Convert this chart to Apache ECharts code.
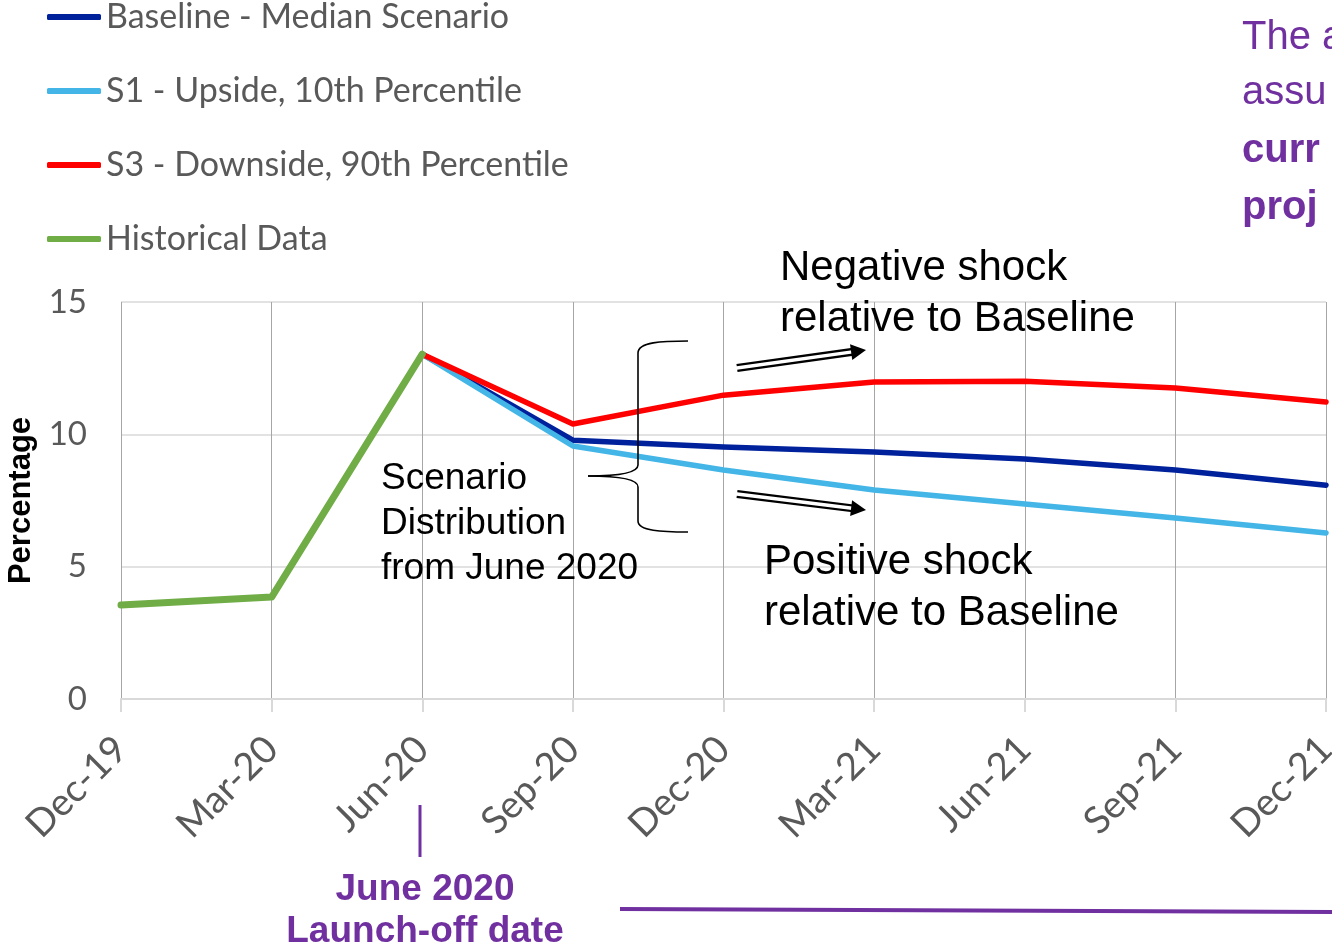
<!DOCTYPE html>
<html>
<head>
<meta charset="utf-8">
<script src="https://cdn.jsdelivr.net/npm/echarts@6/dist/echarts.min.js"></script>
<style>
  html, body { margin: 0; padding: 0; background: #fff; }
  #chart { width: 1332px; height: 946px; }
</style>
</head>
<body>
<div id="chart"></div>
<script>
// ---- data ----
const categories = ['Dec-19', 'Mar-20', 'Jun-20', 'Sep-20', 'Dec-20', 'Mar-21', 'Jun-21', 'Sep-21', 'Dec-21'];
const baseline   = [null, null, 13.03, 9.78, 9.52, 9.33, 9.07, 8.65, 8.08];
const upsideS1   = [null, null, 13.03, 9.56, 8.65, 7.90, 7.37, 6.84, 6.27];
const downsideS3 = [null, null, 13.03, 10.39, 11.48, 11.98, 12.01, 11.75, 11.22];
const historical = [3.55, 3.85, 13.03, null, null, null, null, null, null];
const yTicks = { min: 0, max: 15, interval: 5 };

const seriesNames = ['Baseline - Median Scenario', 'S1 - Upside, 10th Percentile', 'S3 - Downside, 90th Percentile', 'Historical Data'];
const seriesColors = ['#00219C', '#43B5E6', '#FF0000', '#70AD47'];

const PURPLE = '#7030A0';
const AX = 'Lato, "Open Sans", sans-serif';
const AR = '"Liberation Sans", Arial, sans-serif';

function lineSeries(i, data, width) {
  return {
    name: seriesNames[i], type: 'line', data: data,
    showSymbol: false, symbol: 'none', connectNulls: false,
    lineStyle: { color: seriesColors[i], width: width, cap: 'round', join: 'round' },
    itemStyle: { color: seriesColors[i] },
    emphasis: { disabled: true }, animation: false
  };
}

// double-line arrow helper (annotation graphic)
function arrow(x1, y1, x2, y2) {
  const dx = x2 - x1, dy = y2 - y1, L = Math.hypot(dx, dy);
  const ux = dx / L, uy = dy / L, nx = -uy, ny = ux;
  const hl = 15, hw = 8;
  const bx = x2 - ux * hl, by = y2 - uy * hl;
  return [
    { type: 'line', shape: { x1: x1, y1: y1, x2: bx + ux * 2, y2: by + uy * 2 }, style: { stroke: '#000', lineWidth: 8 }, z: 100 },
    { type: 'line', shape: { x1: x1 - ux * 2, y1: y1 - uy * 2, x2: bx + ux * 3, y2: by + uy * 3 }, style: { stroke: '#fff', lineWidth: 3.4 }, z: 101 },
    { type: 'polygon', shape: { points: [[x2, y2], [bx + nx * hw, by + ny * hw], [bx - nx * hw, by - ny * hw]] }, style: { fill: '#000' }, z: 102 }
  ];
}

const braceStyle = { stroke: '#000', lineWidth: 1.6, fill: null };
function bez(x1, y1, cpx1, cpy1, cpx2, cpy2, x2, y2) {
  return { type: 'bezierCurve', z: 100, shape: { x1, y1, cpx1, cpy1, cpx2, cpy2, x2, y2 }, style: braceStyle };
}
function seg(x1, y1, x2, y2) {
  return { type: 'line', z: 100, shape: { x1, y1, x2, y2 }, style: braceStyle };
}

const chart = echarts.init(document.getElementById('chart'), null, { renderer: 'canvas' });

const option = {
  backgroundColor: '#ffffff',
  animation: false,
  grid: { left: 121, right: 6, top: 302, bottom: 247, containLabel: false, outerBoundsMode: 'none' },
  legend: {
    orient: 'vertical', left: 47, top: 0, padding: 0, itemGap: 40,
    itemWidth: 54, itemHeight: 6, icon: 'roundRect',
    data: seriesNames,
    textStyle: { fontFamily: AX, fontSize: 34, color: '#595959', lineHeight: 30, padding: [0, 0, 0, 0] },
    selectedMode: false
  },
  xAxis: {
    type: 'category', data: categories, boundaryGap: false,
    axisLine: { show: true, lineStyle: { color: '#d9d9d9', width: 2 } },
    axisTick: { show: true, length: 13, lineStyle: { color: '#d9d9d9', width: 2 } },
    splitLine: { show: true, lineStyle: { color: '#a6a6a6', width: 1 } },
    axisLabel: { interval: 0, rotate: 45, margin: 44, fontFamily: AX, fontSize: 38, color: '#595959', hideOverlap: false }
  },
  yAxis: {
    type: 'value', min: yTicks.min, max: yTicks.max, interval: yTicks.interval,
    name: 'Percentage', nameLocation: 'middle', nameGap: 84,
    nameTextStyle: { fontFamily: AR, fontWeight: 'bold', fontSize: 31, color: '#000' },
    axisLine: { show: false }, axisTick: { show: false },
    splitLine: { show: true, lineStyle: { color: '#d9d9d9', width: 1.5 } },
    axisLabel: { margin: 34, fontFamily: AX, fontSize: 33, color: '#595959' }
  },
  series: [
    lineSeries(0, baseline, 5.5),
    lineSeries(1, upsideS1, 5.5),
    lineSeries(2, downsideS3, 5.5),
    lineSeries(3, historical, 7)
  ],
  graphic: [
    // top-right truncated callout text
    { type: 'text', x: 1242, y: 38, style: { text: 'The a', font: '40px ' + AR, fill: PURPLE, textVerticalAlign: 'middle' } },
    { type: 'text', x: 1242, y: 93, style: { text: 'assu', font: '40px ' + AR, fill: PURPLE, textVerticalAlign: 'middle' } },
    { type: 'text', x: 1242, y: 151, style: { text: 'curr', font: 'bold 40px ' + AR, fill: PURPLE, textVerticalAlign: 'middle' } },
    { type: 'text', x: 1242, y: 208, style: { text: 'proj', font: 'bold 40px ' + AR, fill: PURPLE, textVerticalAlign: 'middle' } },
    // annotations
    { type: 'text', x: 780, y: 294, z: 100, style: { text: 'Negative shock\nrelative to Baseline', font: '42px ' + AR, lineHeight: 51, fill: '#000', textVerticalAlign: 'middle' } },
    { type: 'text', x: 764, y: 588, z: 100, style: { text: 'Positive shock\nrelative to Baseline', font: '42px ' + AR, lineHeight: 51, fill: '#000', textVerticalAlign: 'middle' } },
    { type: 'text', x: 381, y: 524, z: 100, style: { text: 'Scenario\nDistribution\nfrom June 2020', font: '37px ' + AR, lineHeight: 45, fill: '#000', textVerticalAlign: 'middle' } },
    // curly brace
    bez(688, 341, 662, 341, 638, 342, 638, 353),
    seg(638, 353, 638, 465),
    bez(638, 465, 638, 472, 622, 476, 588, 476),
    bez(588, 476, 622, 476, 638, 480, 638, 487),
    seg(638, 487, 638, 521),
    bez(638, 521, 638, 531, 662, 532, 688, 532),
    ...arrow(737, 368, 866, 350),
    ...arrow(737, 494, 866, 510),
    // launch-off marker
    { type: 'line', shape: { x1: 420, y1: 805, x2: 420, y2: 857 }, style: { stroke: PURPLE, lineWidth: 3 } },
    { type: 'text', x: 425, y: 890, style: { text: 'June 2020', font: 'bold 37px ' + AR, fill: PURPLE, textAlign: 'center', textVerticalAlign: 'middle' } },
    { type: 'text', x: 425, y: 932, style: { text: 'Launch-off date', font: 'bold 37px ' + AR, fill: PURPLE, textAlign: 'center', textVerticalAlign: 'middle' } },
    { type: 'line', shape: { x1: 620, y1: 909, x2: 1332, y2: 912 }, style: { stroke: PURPLE, lineWidth: 4 } }
  ]
};

chart.setOption(option);
</script>
</body>
</html>
